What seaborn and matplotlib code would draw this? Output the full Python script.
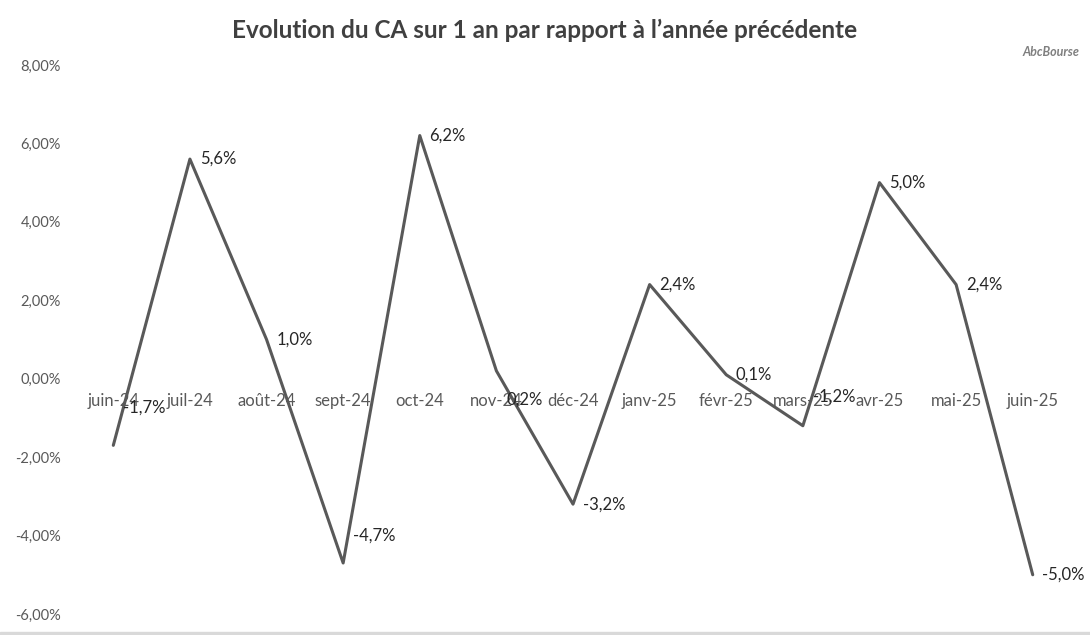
import matplotlib
matplotlib.use("Agg")
import matplotlib.pyplot as plt
import seaborn as sns
import pandas as pd
from matplotlib.ticker import FuncFormatter

# Data
months = ["juin-24", "juil-24", "août-24", "sept-24", "oct-24", "nov-24", "déc-24",
          "janv-25", "févr-25", "mars-25", "avr-25", "mai-25", "juin-25"]
growth = [-1.7, 5.6, 1.0, -4.7, 6.2, 0.2, -3.2, 2.4, 0.1, -1.2, 5.0, 2.4, -5.0]
y_ticks = [-6, -4, -2, 0, 2, 4, 6, 8]

# vertical nudges (points) for a few data labels, as placed in the original
label_dy = {0: 27, 3: 20, 5: -21, 9: 21}

sns.set_theme(style="white")
plt.rcParams['font.family'] = ['Lato', 'DejaVu Sans']

df = pd.DataFrame({"mois": months, "ca": growth})
df["pos"] = range(len(df))

fig = plt.figure(figsize=(10.9, 6.35), dpi=100)
ax = fig.add_axes([0.0688, 0.0331, 0.9138, 0.8646])

sns.lineplot(data=df, x="pos", y="ca", ax=ax, color="#595959", linewidth=2.2)

# data labels to the right of each point
for i, v in enumerate(growth):
    ax.annotate(f"{v:.1f}%".replace(".", ","), (i, v), xytext=(7, label_dy.get(i, 0)),
                textcoords="offset points", ha="left", va="center",
                fontsize=12, color="#262626")

ax.set_xlim(-0.5, len(months) - 0.5)
ax.set_ylim(-6, 8)
ax.set_yticks(y_ticks)
ax.yaxis.set_major_formatter(FuncFormatter(lambda v, p: f"{v:.2f}%".replace(".", ",")))
ax.set_xticks(df["pos"])
ax.set_xticklabels(months)
ax.spines['bottom'].set_position(('data', 0))
for s in ax.spines.values():
    s.set_visible(False)
ax.tick_params(axis="x", length=0, pad=10, labelsize=12, labelcolor="#595959")
ax.tick_params(axis="y", length=0, pad=10, labelsize=10.5, labelcolor="#595959")
ax.set_xlabel("")
ax.set_ylabel("")
ax.grid(False)

fig.text(0.5, 0.952, "Evolution du CA sur 1 an par rapport à l’année précédente",
         ha="center", va="center", fontsize=17.5, color="#404040", fontweight="bold")
fig.text(0.99, 0.918, "AbcBourse", ha="right", va="center", fontsize=9,
         color="#7f7f7f", fontstyle="italic", fontweight="bold")

# light grey strip along the bottom edge
fig.patches.append(plt.Rectangle((0, 0), 1, 0.005, transform=fig.transFigure,
                                 color="#d9d9d9", zorder=0))

fig.savefig("out.png", dpi=100)
